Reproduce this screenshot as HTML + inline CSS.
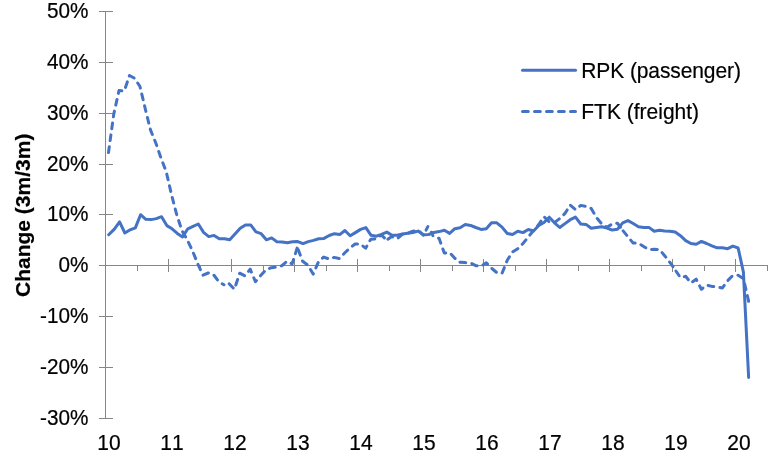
<!DOCTYPE html>
<html><head><meta charset="utf-8"><title>Chart</title>
<style>html,body{margin:0;padding:0;background:#fff;}svg{display:block}</style></head>
<body><svg width="782" height="457" viewBox="0 0 782 457">
<rect width="782" height="457" fill="#fff"/>
<g fill="#868686" shape-rendering="crispEdges">
<rect x="105" y="11" width="1" height="408"/>
<rect x="99" y="11" width="14" height="1"/>
<rect x="99" y="62" width="14" height="1"/>
<rect x="99" y="113" width="14" height="1"/>
<rect x="99" y="164" width="14" height="1"/>
<rect x="99" y="214" width="14" height="1"/>
<rect x="99" y="265" width="14" height="1"/>
<rect x="99" y="316" width="14" height="1"/>
<rect x="99" y="367" width="14" height="1"/>
<rect x="99" y="418" width="14" height="1"/>
<rect x="99" y="265" width="669" height="1"/>
<rect x="137" y="265" width="1" height="6"/>
<rect x="168" y="259" width="1" height="13"/>
<rect x="200" y="265" width="1" height="6"/>
<rect x="231" y="259" width="1" height="13"/>
<rect x="263" y="265" width="1" height="6"/>
<rect x="294" y="259" width="1" height="13"/>
<rect x="326" y="265" width="1" height="6"/>
<rect x="357" y="259" width="1" height="13"/>
<rect x="389" y="265" width="1" height="6"/>
<rect x="420" y="259" width="1" height="13"/>
<rect x="452" y="265" width="1" height="6"/>
<rect x="483" y="259" width="1" height="13"/>
<rect x="515" y="265" width="1" height="6"/>
<rect x="546" y="259" width="1" height="13"/>
<rect x="578" y="265" width="1" height="6"/>
<rect x="609" y="259" width="1" height="13"/>
<rect x="641" y="265" width="1" height="6"/>
<rect x="672" y="259" width="1" height="13"/>
<rect x="704" y="265" width="1" height="6"/>
<rect x="735" y="259" width="1" height="13"/>
<rect x="767" y="265" width="1" height="6"/>
</g>
<g font-family="'Liberation Sans', Arial, sans-serif" font-size="21" fill="#000" stroke="#000" stroke-width="0.2" style="font-kerning:none">
<text transform="translate(88.50 18.20) scale(1 1.07)" text-anchor="end" font-size="20.75">50%</text>
<text transform="translate(88.50 69.20) scale(1 1.07)" text-anchor="end" font-size="20.75">40%</text>
<text transform="translate(88.50 120.20) scale(1 1.07)" text-anchor="end" font-size="20.75">30%</text>
<text transform="translate(88.50 171.20) scale(1 1.07)" text-anchor="end" font-size="20.75">20%</text>
<text transform="translate(88.50 221.20) scale(1 1.07)" text-anchor="end" font-size="20.75">10%</text>
<text transform="translate(88.50 272.20) scale(1 1.07)" text-anchor="end" font-size="20.75">0%</text>
<text transform="translate(88.50 323.20) scale(1 1.07)" text-anchor="end" font-size="20.75">-10%</text>
<text transform="translate(88.50 374.20) scale(1 1.07)" text-anchor="end" font-size="20.75">-20%</text>
<text transform="translate(88.50 425.20) scale(1 1.07)" text-anchor="end" font-size="20.75">-30%</text>
<text transform="translate(109.00 449.80) scale(1 1.06)" text-anchor="middle">10</text>
<text transform="translate(172.00 449.80) scale(1 1.06)" text-anchor="middle">11</text>
<text transform="translate(235.00 449.80) scale(1 1.06)" text-anchor="middle">12</text>
<text transform="translate(298.00 449.80) scale(1 1.06)" text-anchor="middle">13</text>
<text transform="translate(361.00 449.80) scale(1 1.06)" text-anchor="middle">14</text>
<text transform="translate(424.00 449.80) scale(1 1.06)" text-anchor="middle">15</text>
<text transform="translate(487.00 449.80) scale(1 1.06)" text-anchor="middle">16</text>
<text transform="translate(550.00 449.80) scale(1 1.06)" text-anchor="middle">17</text>
<text transform="translate(613.00 449.80) scale(1 1.06)" text-anchor="middle">18</text>
<text transform="translate(676.00 449.80) scale(1 1.06)" text-anchor="middle">19</text>
<text transform="translate(739.00 449.80) scale(1 1.06)" text-anchor="middle">20</text>
<text transform="translate(581.30 77.60) scale(1 1.06)" text-anchor="start" textLength="159.6">RPK (passenger)</text>
<text transform="translate(581.30 118.80) scale(1 1.06)" text-anchor="start">FTK (freight)</text>
<text transform="translate(30.20 215.30) rotate(-90) scale(1 1.0)" text-anchor="middle" font-weight="bold">Change (3m/3m)</text>
</g>
<g fill="none" stroke="#4472C4" stroke-width="3" stroke-linejoin="round" stroke-linecap="round">
<polyline points="108.70,234.7 114.35,229.1 119.59,221.9 124.84,233.0 130.09,229.8 135.34,227.9 140.58,214.7 145.83,219.3 151.08,219.6 156.32,218.6 161.57,216.7 166.82,225.6 172.06,228.8 177.31,233.4 182.56,236.9 187.80,228.8 193.05,226.3 198.30,224.0 203.55,232.4 208.79,236.6 214.04,235.4 219.28,238.8 224.51,238.8 229.74,239.8 234.98,234.1 240.22,228.3 245.45,224.9 250.68,224.9 255.92,231.9 261.16,233.7 266.39,239.8 271.62,237.9 276.86,241.7 282.10,241.9 287.33,242.8 292.56,241.8 297.80,241.6 303.04,243.6 308.27,241.6 313.50,240.4 318.74,238.7 323.98,238.4 329.21,235.5 334.44,233.7 339.68,234.6 344.92,230.5 350.15,235.8 355.38,232.6 360.62,229.4 365.86,227.6 371.09,235.3 376.32,236.2 381.56,234.3 386.80,232.1 392.03,235.3 397.26,235.2 402.50,234.0 407.74,233.2 412.97,232.5 418.20,231.1 423.44,234.7 428.68,234.5 433.91,232.5 439.14,231.6 444.38,230.3 449.62,233.4 454.85,228.7 460.08,227.7 465.32,224.5 470.56,225.4 475.79,227.5 481.04,229.4 486.28,228.8 491.53,222.8 496.78,222.8 502.02,227.1 507.27,233.5 512.52,234.5 517.77,231.3 523.01,232.6 528.26,229.5 533.51,231.0 538.75,225.5 544.00,222.5 549.25,217.2 554.50,222.8 559.74,227.5 564.99,223.6 570.24,219.7 575.48,217.1 580.73,224.0 585.98,224.4 591.22,228.3 596.47,227.5 601.72,226.7 606.96,228.0 612.21,230.1 617.46,229.2 622.71,222.9 627.95,220.6 633.20,223.5 638.45,226.7 643.69,227.4 648.94,227.4 654.19,231.2 659.43,230.3 664.68,231.0 669.93,231.2 675.18,232.1 680.42,235.7 685.67,240.6 690.92,243.5 696.16,244.2 701.41,241.4 706.66,243.5 711.90,245.8 717.15,247.8 722.40,247.8 727.65,248.7 732.89,246.1 738.14,248.0 743.39,272.0 748.63,377.4"/>
<polyline points="108.50,152.5 113.75,114.2 118.99,90.5 124.24,91.0 129.49,75.5 134.74,78.4 139.98,86.5 145.23,108.6 150.48,129.9 155.72,142.7 160.97,158.0 166.22,171.7 171.46,194.5 176.71,214.7 181.96,230.7 187.20,239.7 192.45,250.7 197.70,263.7 202.95,275.2 208.19,273.0 213.44,274.5 218.69,281.6 223.93,284.8" stroke-dasharray="5.8 6.2" stroke-dashoffset="0.0"/>
<polyline points="223.93,284.8 229.18,283.8 234.43,289.2 239.68,273.2 244.92,275.8 250.17,269.2 255.42,281.7 260.66,275.6 265.91,269.9 271.16,267.7 276.40,267.1 281.65,265.8 286.90,261.3 292.14,263.9 297.39,247.3" stroke-dasharray="5.8 6.2" stroke-dashoffset="6.7"/>
<polyline points="297.39,247.3 302.64,261.3 307.89,265.2 313.13,274.1 318.38,262.0 323.63,257.1 328.87,259.0 334.12,257.4 339.37,258.5 344.62,253.0 349.86,248.0 355.11,244.0 360.36,244.0 365.60,248.2 370.85,239.2 376.10,238.8 381.34,235.0 386.59,240.1" stroke-dasharray="5.8 6.2" stroke-dashoffset="9.4"/>
<polyline points="386.59,240.1 391.84,236.5 397.08,238.8 402.33,234.3 407.58,233.4 412.83,231.2 418.07,230.4 423.32,235.2" stroke-dasharray="5.8 6.2" stroke-dashoffset="10.5"/>
<polyline points="423.32,235.2 428.57,225.3" stroke-dasharray="3.9 100" stroke-dashoffset="-5.8"/>
<polyline points="428.57,225.3 433.81,237.8" stroke-dasharray="3.8 100" stroke-dashoffset="-7.5"/>
<polyline points="433.81,237.8 439.06,238.2 444.31,253.1 449.56,252.5 454.80,258.2 460.05,262.3 465.30,262.6 470.54,263.0 475.79,265.7 481.04,266.2 486.28,262.8 491.53,268.2 496.78,272.6 502.02,273.3 507.27,260.2 512.52,251.9 517.77,248.7 523.01,243.5 528.26,237.0 533.51,230.6 538.75,224.5 544.00,216.8 549.25,221.9 554.50,222.6 559.74,218.5 564.99,213.4 570.24,205.0 575.48,209.6 580.73,205.4 585.98,206.4 591.22,208.5 596.47,217.5 601.72,223.9 606.96,227.3 612.21,224.0 617.46,223.2 622.71,230.3" stroke-dasharray="5.8 6.2" stroke-dashoffset="7.3"/>
<polyline points="622.71,230.3 627.95,236.8 633.20,243.1 638.45,243.1 643.69,246.6 648.94,249.5 654.19,249.3 659.43,249.5 664.68,255.7 669.93,262.4 675.18,269.9" stroke-dasharray="5.8 6.2" stroke-dashoffset="11.3"/>
<polyline points="675.18,269.9 680.42,277.6 685.67,276.3 690.92,283.0 696.16,279.2 701.41,289.3 706.66,285.1 711.90,286.4 717.15,286.9 722.40,288.0 727.65,280.6 732.89,275.4 738.14,275.3 743.39,278.5 748.63,301.3" stroke-dasharray="5.8 6.2" stroke-dashoffset="10.7"/>
<line x1="522.5" y1="70.3" x2="575.5" y2="70.3"/>
<line x1="522.5" y1="111.5" x2="575.5" y2="111.5" stroke-dasharray="5.8 6.2"/>
</g>
</svg></body></html>
